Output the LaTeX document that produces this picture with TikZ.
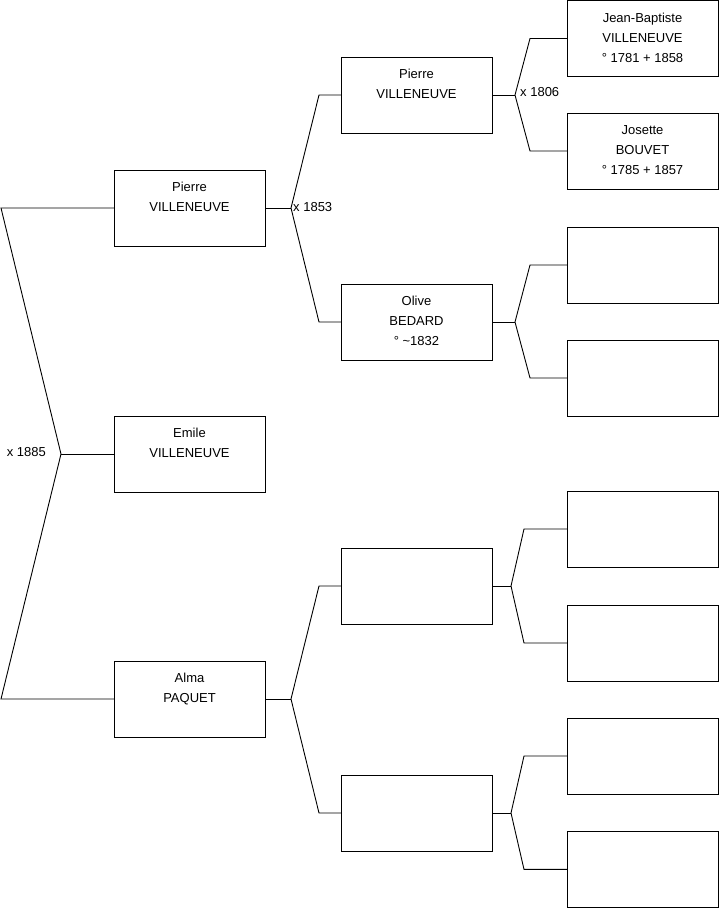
\documentclass[tikz,border=0pt]{standalone}
\usepackage{fontspec}
\setmainfont{Liberation Sans}
\begin{document}
\begin{tikzpicture}[x=1pt,y=-1pt,
  pbox/.style={draw=black, line width=0.9pt, minimum width=151pt, minimum height=76pt, inner sep=0pt, outer sep=0pt},
  plabel/.style={anchor=north, inner sep=0pt, align=center, font=\fontsize{13}{20}\selectfont, yshift=-7.5pt},
  conn/.style={line width=0.9pt, black},
  mlabel/.style={font=\fontsize{13}{16}\selectfont, inner sep=0pt}]
\useasboundingbox (0,0) rectangle (719,908);

% column 1
\node[pbox, label={[plabel]north:{\rule{0pt}{14pt}Pierre\\VILLENEUVE}}] (c1) at (189.5,208) {};
\node[pbox, label={[plabel]north:{\rule{0pt}{14pt}Emile\\VILLENEUVE}}] (c2) at (189.5,454) {};
\node[pbox, label={[plabel]north:{\rule{0pt}{14pt}Alma\\PAQUET}}] (c3) at (189.5,699) {};

% column 2
\node[pbox, label={[plabel]north:{\rule{0pt}{14pt}Pierre\\VILLENEUVE}}] (d1) at (416.5,95) {};
\node[pbox, label={[plabel]north:{\rule{0pt}{14pt}Olive\\BEDARD\\° \textasciitilde 1832}}] (d2) at (416.5,322) {};
\node[pbox] (d3) at (416.5,586) {};
\node[pbox] (d4) at (416.5,813) {};

% column 3
\node[pbox, label={[plabel]north:{\rule{0pt}{14pt}Jean-Baptiste\\VILLENEUVE\\° 1781 + 1858}}] (e1) at (642.5,38.5) {};
\node[pbox, label={[plabel]north:{\rule{0pt}{14pt}Josette\\BOUVET\\° 1785 + 1857}}] (e2) at (642.5,151) {};
\node[pbox] (e3) at (642.5,265) {};
\node[pbox] (e4) at (642.5,378) {};
\node[pbox] (e5) at (642.5,529) {};
\node[pbox] (e6) at (642.5,643) {};
\node[pbox] (e7) at (642.5,756) {};
\node[pbox] (e8) at (642.5,869.4) {};

% fork coordinates
\coordinate (r1) at (1,208);
\coordinate (rf) at (61,454);
\coordinate (r3) at (1,699);

\coordinate (f1) at (291,208);
\coordinate (f1a) at (319,95);
\coordinate (f1b) at (319,322);

\coordinate (f3) at (291,699);
\coordinate (f3a) at (319,586);
\coordinate (f3b) at (319,813);

\coordinate (g1) at (515,95);
\coordinate (g1a) at (530,38.5);
\coordinate (g1b) at (530,151);

\coordinate (g2) at (515,322);
\coordinate (g2a) at (530,265);
\coordinate (g2b) at (530,378);

\coordinate (g3) at (511,586);
\coordinate (g3a) at (524,529);
\coordinate (g3b) at (524,643);

\coordinate (g4) at (511,813);
\coordinate (g4a) at (524,756);
\coordinate (g4b) at (524,869.4);

% connectors
\draw[conn] (c1.west) -- (r1) -- (rf) -- (r3) -- (c3.west);
\draw[conn] (rf) -- (c2.west);

\draw[conn] (c1.east) -- (f1);
\draw[conn] (d1.west) -- (f1a) -- (f1) -- (f1b) -- (d2.west);
\draw[conn] (c3.east) -- (f3);
\draw[conn] (d3.west) -- (f3a) -- (f3) -- (f3b) -- (d4.west);

\draw[conn] (d1.east) -- (g1);
\draw[conn] (e1.west) -- (g1a) -- (g1) -- (g1b) -- (e2.west);
\draw[conn] (d2.east) -- (g2);
\draw[conn] (e3.west) -- (g2a) -- (g2) -- (g2b) -- (e4.west);
\draw[conn] (d3.east) -- (g3);
\draw[conn] (e5.west) -- (g3a) -- (g3) -- (g3b) -- (e6.west);
\draw[conn] (d4.east) -- (g4);
\draw[conn] (e7.west) -- (g4a) -- (g4) -- (g4b) -- (e8.west);

% marriage labels
\node[mlabel, anchor=east] (m1) at (46,452) {x 1885};
\node[mlabel, anchor=west] (m2) at (293,207) {x 1853};
\node[mlabel, anchor=west] (m3) at (520,92) {x 1806};
\end{tikzpicture}
\end{document}
